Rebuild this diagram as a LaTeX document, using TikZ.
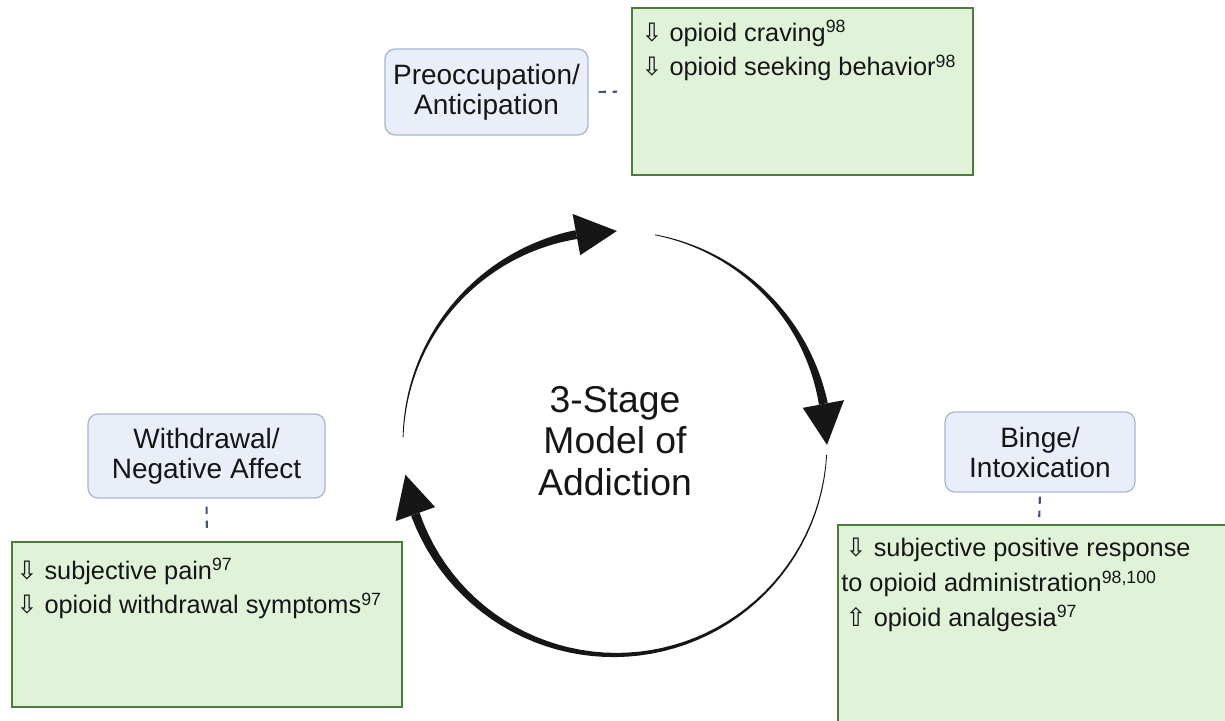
\documentclass[tikz,border=0pt]{standalone}
\usepackage{fontspec}
\setmainfont{Liberation Sans}
\newfontfamily\arrfont{DejaVu Sans}
\newcommand{\arrdown}{{\arrfont\char"21E9}}
\newcommand{\arrup}{{\arrfont\char"21E7}}
\definecolor{stagefill}{HTML}{E9EEF9}
\definecolor{stageline}{HTML}{A7B5D3}
\definecolor{notefill}{HTML}{E0F3D9}
\definecolor{noteline}{HTML}{4A7D3A}
\definecolor{linkcol}{HTML}{44507A}
\definecolor{inkcol}{HTML}{161616}

\begin{document}
\begin{tikzpicture}[x=0.75pt,y=0.75pt,yscale=-1,xscale=1,
  stagebox/.style={draw=stageline, fill=stagefill, rounded corners=7.5pt, line width=0.9pt,
    align=center, text=inkcol, font=\fontsize{21}{22.5}\selectfont, inner sep=0pt},
  notebox/.style={draw=noteline, fill=notefill, line width=1.5pt, inner sep=0pt},
  notetext/.style={anchor=north west, inner sep=0pt, align=left, text=inkcol,
    font=\fontsize{19}{26}\selectfont},
  linkdash/.style={draw=linkcol, line width=1.6pt, dash pattern=on 5.5pt off 5pt},
  cycarrow/.style={fill=inkcol}]
\useasboundingbox (0,0) rectangle (1225,721);
\clip (0,0) rectangle (1225,721);

%Shape: Rectangle -- note boxes
\node [notebox, minimum width=255.75pt, minimum height=125.25pt] (cravbox) at (802.5,91.5) {};
\node [notebox, minimum width=292.5pt, minimum height=123.75pt] (painbox) at (207,624.5) {};
\node [notebox, minimum width=301.5pt, minimum height=161.25pt] (bingelist) at (1039,632.5) {};

%Shape: Rounded Rect -- stages
\node [stagebox, minimum width=152.25pt, minimum height=64.5pt] (preocc) at (486.5,92) {Preoccupation/\\Anticipation};
\node [stagebox, minimum width=177.75pt, minimum height=63pt] (withdraw) at (206.5,456) {Withdrawal/\\Negative Affect};
\node [stagebox, minimum width=142.5pt, minimum height=60pt] (binge) at (1040,452) {Binge/\\Intoxication};

%Straight Lines -- dashed links
\draw [linkdash, shorten <=7.5pt, shorten >=10.5pt] (preocc.east) -- (cravbox.west);
\draw [linkdash, shorten <=6pt, shorten >=9.75pt] (withdraw.south) -- (painbox.north);
\draw [linkdash, shorten <=3pt, shorten >=5.25pt] (binge.south) -- (bingelist.north);

% Text Node
\node [notetext] (cravtext) at (641,20) {\arrdown{} opioid craving\textsuperscript{98}\\\arrdown{} opioid seeking behavior\textsuperscript{98}};
% Text Node
\node [notetext] (paintext) at (16,558) {\arrdown{} subjective pain\textsuperscript{97}\\\arrdown{} opioid withdrawal symptoms\textsuperscript{97}};
% Text Node
\node [notetext] (bingetext) at (841,538) {\,\arrdown{} subjective positive response\\to opioid administration\textsuperscript{98,100}\\\,\arrup{} opioid analgesia\textsuperscript{97}};

% Text Node
\node [align=center, text=inkcol, font=\fontsize{28}{31}\selectfont] (model) at (615,441) {3-Stage\\Model of\\Addiction};

%Curve Lines -- tapered cycle arrows
\begin{scope}[shift={(615,443)}]
\foreach \a/\b/\c in {181.6/259.5/270.5, 280.8/349.4/360.5, 3.2/160.4/171.4} {
  \fill [cycarrow] plot [domain=0:1, samples=50] ({\a+\x*(\b-\a)}:{212+0.4+1.8*\x+2.3*\x*\x})
    -- plot [domain=0:1, samples=50] ({\b-\x*(\b-\a)}:{212-0.4-1.8*(1-\x)-2.3*(1-\x)*(1-\x)}) -- cycle;
  \fill [cycarrow] (\b:191) -- (\c:212) -- (\b:233) -- cycle;
}
\end{scope}

\end{tikzpicture}
\end{document}
